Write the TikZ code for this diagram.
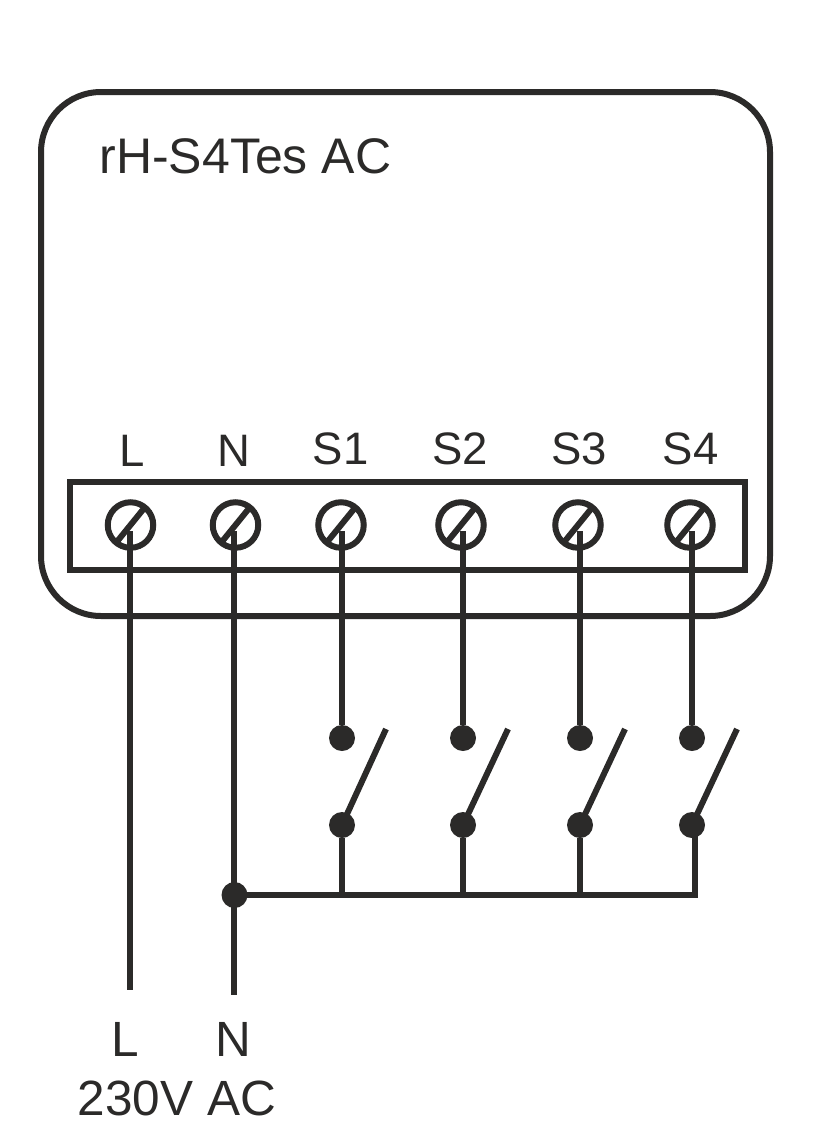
\documentclass[tikz,border=0pt]{standalone}
\usepackage{fontspec}
\setmainfont{Liberation Sans}
\usepackage{tikz}
\usetikzlibrary{calc}
\definecolor{myblack}{RGB}{43,42,41}

\begin{document}
\begin{tikzpicture}[x=1pt,y=-1pt,
  line width=6pt,draw=myblack,text=myblack,
  screw/.style={circle,draw,inner sep=0pt,outer sep=0pt,minimum size=45.5pt,
    path picture={\draw ([shift={(-13,16)}]path picture bounding box.center)
      -- ([shift={(13,-16)}]path picture bounding box.center);}},
  contact/.style={circle,fill=myblack,draw=none,inner sep=0pt,outer sep=0pt,minimum size=26pt},
  lbl/.style={inner sep=0pt,font=\fontsize{49.5}{49.5}\selectfont,anchor=base},
  tlbl/.style={lbl,font=\fontsize{45.5}{45.5}\selectfont}
]
\useasboundingbox (0,0) rectangle (816,1125);

% the housing
\draw[rounded corners=60pt] (41,92) rectangle (770,616);
\node[lbl,font=\fontsize{50}{50}\selectfont,anchor=base west] (title) at (96.5,173) {rH-S4Tes AC};

% the terminal block
\draw (70,482) rectangle (745,569.5);
\node[screw] (tL) at (130.5,525) {};
\node[screw] (tN) at (235.5,525) {};
\node[screw] (t1) at (341,525) {};
\node[screw] (t2) at (461,525) {};
\node[screw] (t3) at (578,525) {};
\node[screw] (t4) at (690,525) {};

% the terminal names
\node[tlbl] (lL) at (132.5,466) {L};
\node[tlbl] (lN) at (234,466) {N};
\node[tlbl] (l1) at (340.5,464) {S1};
\node[tlbl] (l2) at (460,464) {S2};
\node[tlbl] (l3) at (579,464) {S3};
\node[tlbl] (l4) at (690.5,464) {S4};

% the switch contacts
\node[contact] (a1) at (342,738) {};
\node[contact] (b1) at (342,825) {};
\node[contact] (a2) at (463,738) {};
\node[contact] (b2) at (463,825) {};
\node[contact] (a3) at (580,738) {};
\node[contact] (b3) at (580,825) {};
\node[contact] (a4) at (692,738) {};
\node[contact] (b4) at (692,825) {};
\node[contact] (j) at (234.5,895) {};

% the free ends
\coordinate (e1) at (386,729);
\coordinate (e2) at (508,729);
\coordinate (e3) at (625,729);
\coordinate (e4) at (737,729);
\coordinate (endL) at (129.5,990);
\coordinate (endN) at (233.5,995);
\coordinate (busend) at (694.5,895);

% the supply
\draw ($(tL.center)+(-1,6)$) -- (endL);
\draw ($(tN.center)+(-2,6)$) -- (endN);
\node[lbl] (sL) at (125,1056) {L};
\node[lbl] (sN) at (233,1056) {N};
\node[lbl] (supply) at (177,1115) {230V AC};

% the wires
\draw ($(t1 -| a1)+(0,6)$) -- (a1);
\draw ($(t2 -| a2)+(0,6)$) -- (a2);
\draw ($(t3 -| a3)+(0,6)$) -- (a3);
\draw ($(t4 -| a4)+(0,6)$) -- (a4);

% the switches
\draw (b1.center) -- (e1);
\draw (b2.center) -- (e2);
\draw (b3.center) -- (e3);
\draw (b4.center) -- (e4);

% the bus
\draw[line cap=rect] (j.center) -- (busend);
\draw (b1) -- (b1 |- j);
\draw (b2) -- (b2 |- j);
\draw (b3) -- (b3 |- j);
\draw ($(b4.center)+(2.5,0)$) -- (busend);
\end{tikzpicture}
\end{document}
